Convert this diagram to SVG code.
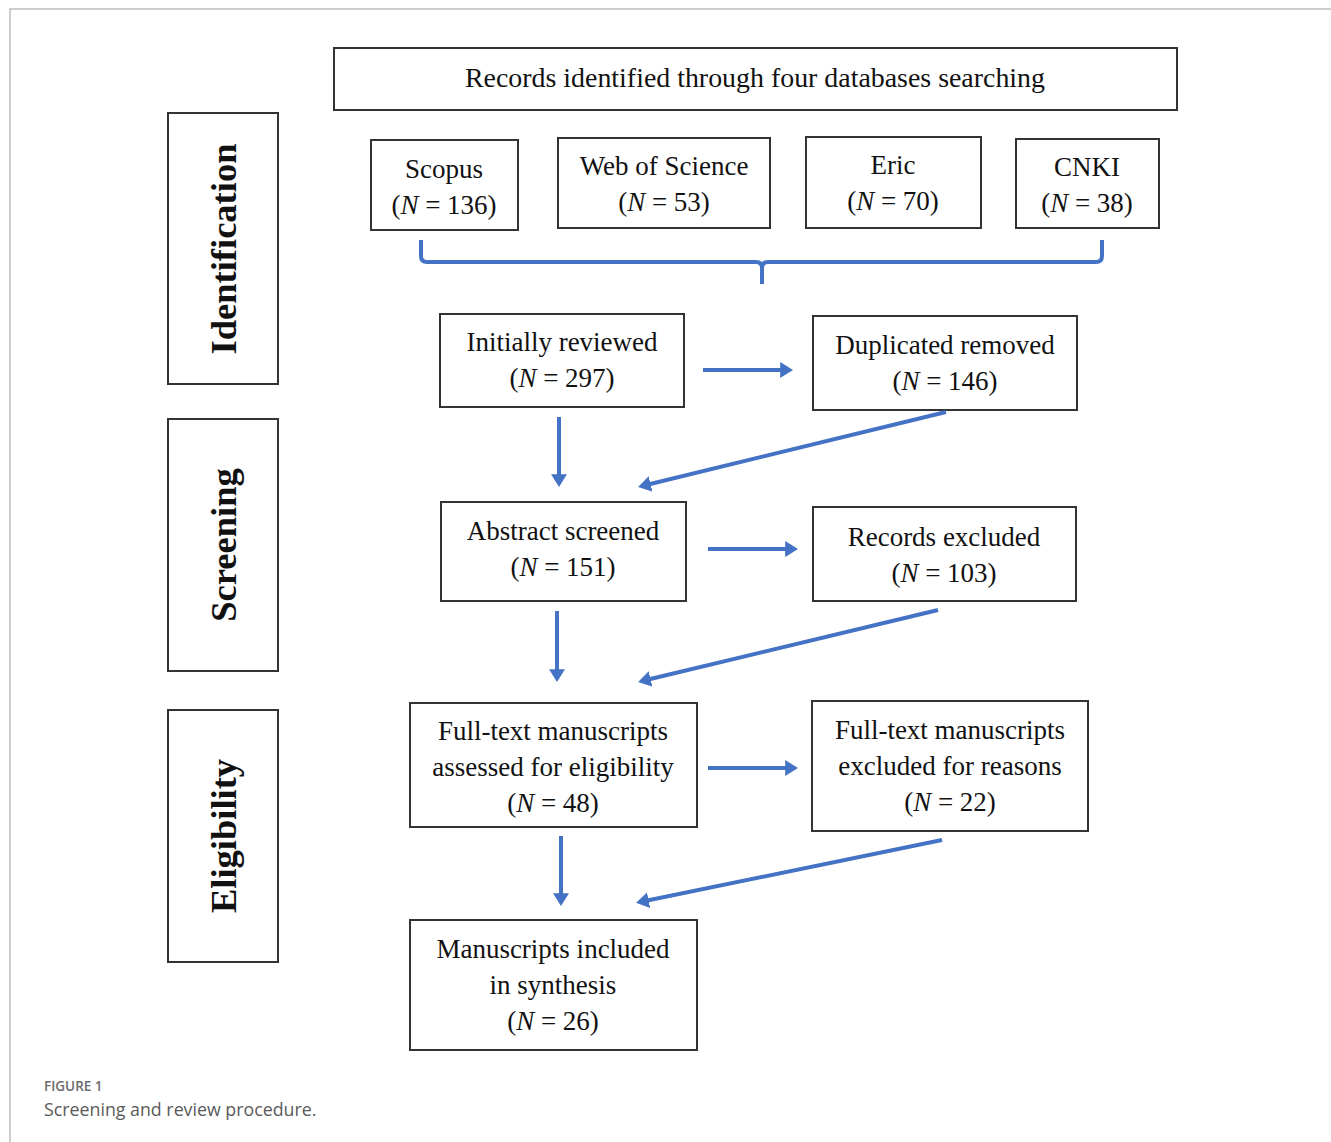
<svg xmlns="http://www.w3.org/2000/svg" width="1331" height="1142" viewBox="0 0 1331 1142">
<defs>
<style>
.box{fill:#fff;stroke:#333;stroke-width:2}
.t{font-family:"Liberation Serif","Times New Roman",serif;font-size:27px;fill:#111;text-anchor:middle}
.st{font-family:"Liberation Serif","Times New Roman",serif;font-size:36.5px;font-weight:bold;fill:#111;text-anchor:middle}
.i{font-style:italic}
.c{stroke:#4472c4;stroke-width:4;fill:none}
</style>
<marker id="ah" markerWidth="4" markerHeight="4" refX="2.2" refY="2" orient="auto" markerUnits="strokeWidth">
<path d="M0,0 L3.2,2 L0,4 Z" fill="#4472c4"/>
</marker>
</defs>
<rect width="1331" height="1142" fill="#fff"/>
<path d="M10,1142 V9 H1331" fill="none" stroke="#bdbdbd" stroke-width="1.5"/>

<g id="stage-identification"><rect class="box" x="168" y="113" width="110" height="271"/><text class="st" transform="translate(236,249) rotate(-90)">Identification</text></g>
<g id="stage-screening"><rect class="box" x="168" y="419" width="110" height="252"/><text class="st" transform="translate(236,545) rotate(-90)">Screening</text></g>
<g id="stage-eligibility"><rect class="box" x="168" y="710" width="110" height="252"/><text class="st" transform="translate(236,836) rotate(-90)">Eligibility</text></g>

<g id="records"><rect class="box" x="334" y="48" width="843" height="62"/><text class="t" x="755" y="87" textLength="580" lengthAdjust="spacingAndGlyphs">Records identified through four databases searching</text></g>
<g id="scopus"><rect class="box" x="371" y="140" width="147" height="90"/><text class="t" x="444" y="178">Scopus</text><text class="t" x="444" y="214">(<tspan class="i">N</tspan> = 136)</text></g>
<g id="wos"><rect class="box" x="558" y="138" width="212" height="90"/><text class="t" x="664" y="175">Web of Science</text><text class="t" x="664" y="211">(<tspan class="i">N</tspan> = 53)</text></g>
<g id="eric"><rect class="box" x="806" y="137" width="175" height="91"/><text class="t" x="893" y="174">Eric</text><text class="t" x="893" y="210">(<tspan class="i">N</tspan> = 70)</text></g>
<g id="cnki"><rect class="box" x="1016" y="139" width="143" height="89"/><text class="t" x="1087" y="176">CNKI</text><text class="t" x="1087" y="212">(<tspan class="i">N</tspan> = 38)</text></g>

<g id="initial"><rect class="box" x="440" y="314" width="244" height="93"/><text class="t" x="562" y="351">Initially reviewed</text><text class="t" x="562" y="387">(<tspan class="i">N</tspan> = 297)</text></g>
<g id="duplicated"><rect class="box" x="813" y="316" width="264" height="94"/><text class="t" x="945" y="354">Duplicated removed</text><text class="t" x="945" y="390">(<tspan class="i">N</tspan> = 146)</text></g>
<g id="abstract"><rect class="box" x="441" y="502" width="245" height="99"/><text class="t" x="563" y="540">Abstract screened</text><text class="t" x="563" y="576">(<tspan class="i">N</tspan> = 151)</text></g>
<g id="excluded"><rect class="box" x="813" y="507" width="263" height="94"/><text class="t" x="944" y="546">Records excluded</text><text class="t" x="944" y="582">(<tspan class="i">N</tspan> = 103)</text></g>
<g id="fulltext"><rect class="box" x="410" y="703" width="287" height="124"/><text class="t" x="553" y="740">Full-text manuscripts</text><text class="t" x="553" y="776">assessed for eligibility</text><text class="t" x="553" y="812">(<tspan class="i">N</tspan> = 48)</text></g>
<g id="fulltext-excluded"><rect class="box" x="812" y="701" width="276" height="130"/><text class="t" x="950" y="739">Full-text manuscripts</text><text class="t" x="950" y="775">excluded for reasons</text><text class="t" x="950" y="811">(<tspan class="i">N</tspan> = 22)</text></g>
<g id="included"><rect class="box" x="410" y="920" width="287" height="130"/><text class="t" x="553" y="958">Manuscripts included</text><text class="t" x="553" y="994">in synthesis</text><text class="t" x="553" y="1030">(<tspan class="i">N</tspan> = 26)</text></g>

<g id="connectors">
<path class="c" d="M421,240 V256 Q421,262 427,262 H756 Q762,262 762,268 V284 M762,268 Q762,262 768,262 H1096 Q1102,262 1102,256 V240"/>
<line class="c" x1="703" y1="370" x2="789" y2="370" marker-end="url(#ah)"/>
<line class="c" x1="559" y1="417" x2="559" y2="483" marker-end="url(#ah)"/>
<line class="c" x1="946" y1="412" x2="642" y2="486" marker-end="url(#ah)"/>
<line class="c" x1="708" y1="549" x2="794" y2="549" marker-end="url(#ah)"/>
<line class="c" x1="557" y1="611" x2="557" y2="678" marker-end="url(#ah)"/>
<line class="c" x1="938" y1="610" x2="642" y2="681" marker-end="url(#ah)"/>
<line class="c" x1="708" y1="768" x2="794" y2="768" marker-end="url(#ah)"/>
<line class="c" x1="561" y1="836" x2="561" y2="902" marker-end="url(#ah)"/>
<line class="c" x1="942" y1="840" x2="640" y2="902" marker-end="url(#ah)"/>
</g>

<text x="44" y="1091" font-family="'Open Sans','Noto Sans',sans-serif" font-size="13.5" font-weight="600" fill="#6b6b6b">FIGURE 1</text>
<text x="44" y="1116" font-family="'Open Sans','Noto Sans',sans-serif" font-size="17.8" fill="#5a5a5a">Screening and review procedure.</text>
</svg>
